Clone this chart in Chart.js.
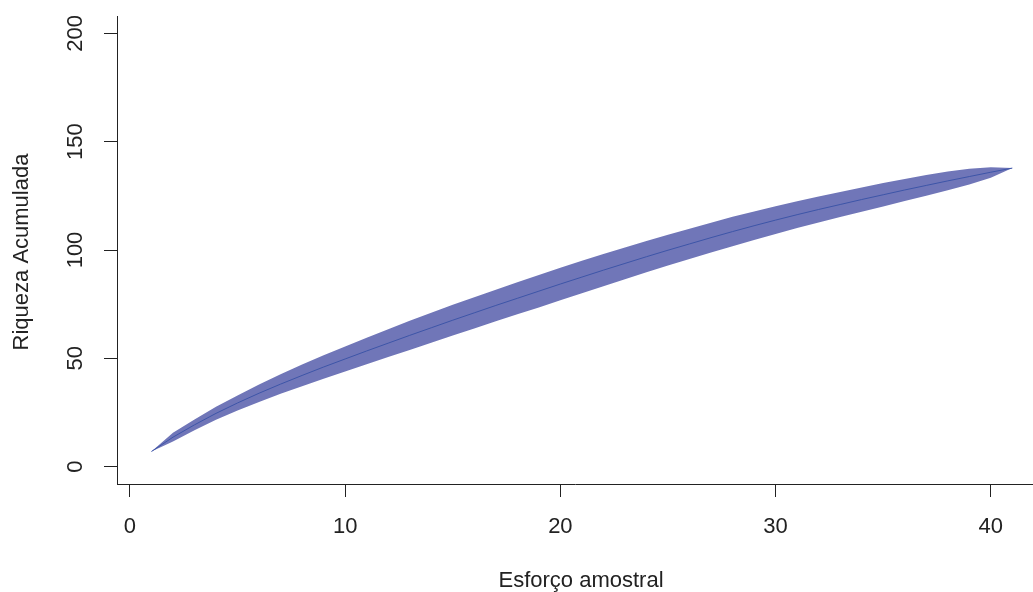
<!DOCTYPE html>
<html lang="pt">
<head>
    <meta charset="UTF-8">
    <script src="https://cdn.jsdelivr.net/npm/chart.js"></script>
    <title>Riqueza Acumulada</title>
<style>
    html, body { margin: 0; padding: 0; background: #ffffff; overflow: hidden; }
    #wrap { width: 1033px; height: 592px; }
</style>
</head>
<body>
<div id="wrap">
    <canvas id="myChart" width="1033" height="592"></canvas>
</div>
<script>
// esforco amostral (amostras)
const esforco = [1, 2, 3, 4, 5, 6, 7, 8, 9, 10, 11, 12, 13, 14, 15, 16, 17, 18, 19, 20,
    21, 22, 23, 24, 25, 26, 27, 28, 29, 30, 31, 32, 33, 34, 35, 36, 37, 38, 39, 40, 41];

// riqueza media acumulada
const riqueza = [7.0, 13.6, 19.3, 24.6, 29.4, 33.9, 38.1, 42.1, 46.0, 49.7,
    53.4, 57.0, 60.6, 64.1, 67.6, 71.0, 74.4, 77.7, 81.0, 84.3,
    87.5, 90.7, 93.8, 96.9, 99.9, 102.8, 105.7, 108.5, 111.2, 113.8,
    116.3, 118.7, 121.0, 123.3, 125.5, 127.7, 129.8, 131.9, 133.9, 135.9, 137.8];

// limites do intervalo
const superior = [7.0, 15.6, 21.8, 27.6, 32.9, 37.9, 42.6, 47.1, 51.4, 55.5,
    59.5, 63.4, 67.3, 71.0, 74.7, 78.2, 81.7, 85.1, 88.5, 91.8,
    95.0, 98.1, 101.1, 104.1, 107.0, 109.8, 112.6, 115.3, 117.8, 120.2,
    122.5, 124.7, 126.8, 128.9, 130.9, 132.8, 134.6, 136.2, 137.5, 138.2, 137.8];
const inferior = [7.0, 11.6, 16.8, 21.6, 25.9, 29.9, 33.6, 37.1, 40.6, 43.9,
    47.3, 50.6, 53.9, 57.2, 60.5, 63.8, 67.1, 70.3, 73.5, 76.8,
    80.0, 83.3, 86.5, 89.7, 92.8, 95.8, 98.8, 101.7, 104.6, 107.4,
    110.1, 112.7, 115.2, 117.7, 120.1, 122.6, 125.0, 127.6, 130.2, 133.4, 137.8];

const xTicks = [0, 10, 20, 30, 40];
const yTicks = [0, 50, 100, 150, 200];

const fonte = "'Liberation Sans', Arial, sans-serif";
const corTexto = '#222222';

function pontos(ys) {
    return esforco.map((x, i) => ({ x: x, y: ys[i] }));
}

// desenha os rotulos do eixo y (girados) e os titulos dos eixos
const rotulos = {
    id: 'rotulos',
    afterDraw(chart) {
        const ctx = chart.ctx;
        const ys = chart.scales.y;
        const area = chart.chartArea;
        ctx.save();
        ctx.fillStyle = corTexto;
        ctx.font = '22px ' + fonte;
        ctx.textAlign = 'center';
        ctx.textBaseline = 'middle';
        yTicks.forEach(v => {
            const py = ys.getPixelForValue(v);
            ctx.save();
            ctx.translate(76, py);
            ctx.rotate(-Math.PI / 2);
            ctx.fillText(String(v), 0, 0);
            ctx.restore();
        });
        ctx.save();
        ctx.translate(22, (area.top + area.bottom) / 2 + 2);
        ctx.rotate(-Math.PI / 2);
        ctx.fillText('Riqueza Acumulada', 0, 0);
        ctx.restore();
        ctx.fillText('Esforço amostral', 581, 581);
        ctx.restore();
    }
};

const ctx = document.getElementById('myChart').getContext('2d');
const chart1 = new Chart(ctx, {
    type: 'line',
    data: {
        datasets: [
            {
                label: 'riqueza',
                data: pontos(riqueza),
                borderColor: '#3d55a8',
                borderWidth: 1,
                pointRadius: 0,
                fill: false,
                tension: 0
            },
            {
                label: 'superior',
                data: pontos(superior),
                borderWidth: 0,
                pointRadius: 0,
                backgroundColor: '#7076b8',
                fill: '+1',
                tension: 0
            },
            {
                label: 'inferior',
                data: pontos(inferior),
                borderWidth: 0,
                pointRadius: 0,
                fill: false,
                tension: 0
            }
        ]
    },
    plugins: [rotulos],
    options: {
        responsive: false,
        animation: false,
        events: [],
        layout: { padding: { top: 16, left: 0, right: 0, bottom: 0 } },
        plugins: {
            legend: { display: false },
            tooltip: { enabled: false }
        },
        scales: {
            x: {
                type: 'linear',
                min: -0.6,
                max: 41.96,
                afterFit: s => { s.height = 108; },
                afterBuildTicks: s => { s.ticks = xTicks.map(v => ({ value: v })); },
                border: { display: true, color: '#222222', width: 1 },
                grid: {
                    drawOnChartArea: false,
                    drawTicks: true,
                    tickLength: 13,
                    tickColor: '#222222',
                    tickWidth: 1
                },
                ticks: {
                    includeBounds: false,
                    color: corTexto,
                    font: { family: fonte, size: 22 },
                    padding: 17,
                    maxRotation: 0
                }
            },
            y: {
                type: 'linear',
                min: -8,
                max: 208,
                afterFit: s => { s.width = 117; },
                afterBuildTicks: s => { s.ticks = yTicks.map(v => ({ value: v })); },
                border: { display: true, color: '#222222', width: 1 },
                grid: {
                    drawOnChartArea: false,
                    drawTicks: true,
                    tickLength: 13,
                    tickColor: '#222222',
                    tickWidth: 1
                },
                ticks: {
                    includeBounds: false,
                    display: false
                }
            }
        }
    }
});
</script>
</body>
</html>
